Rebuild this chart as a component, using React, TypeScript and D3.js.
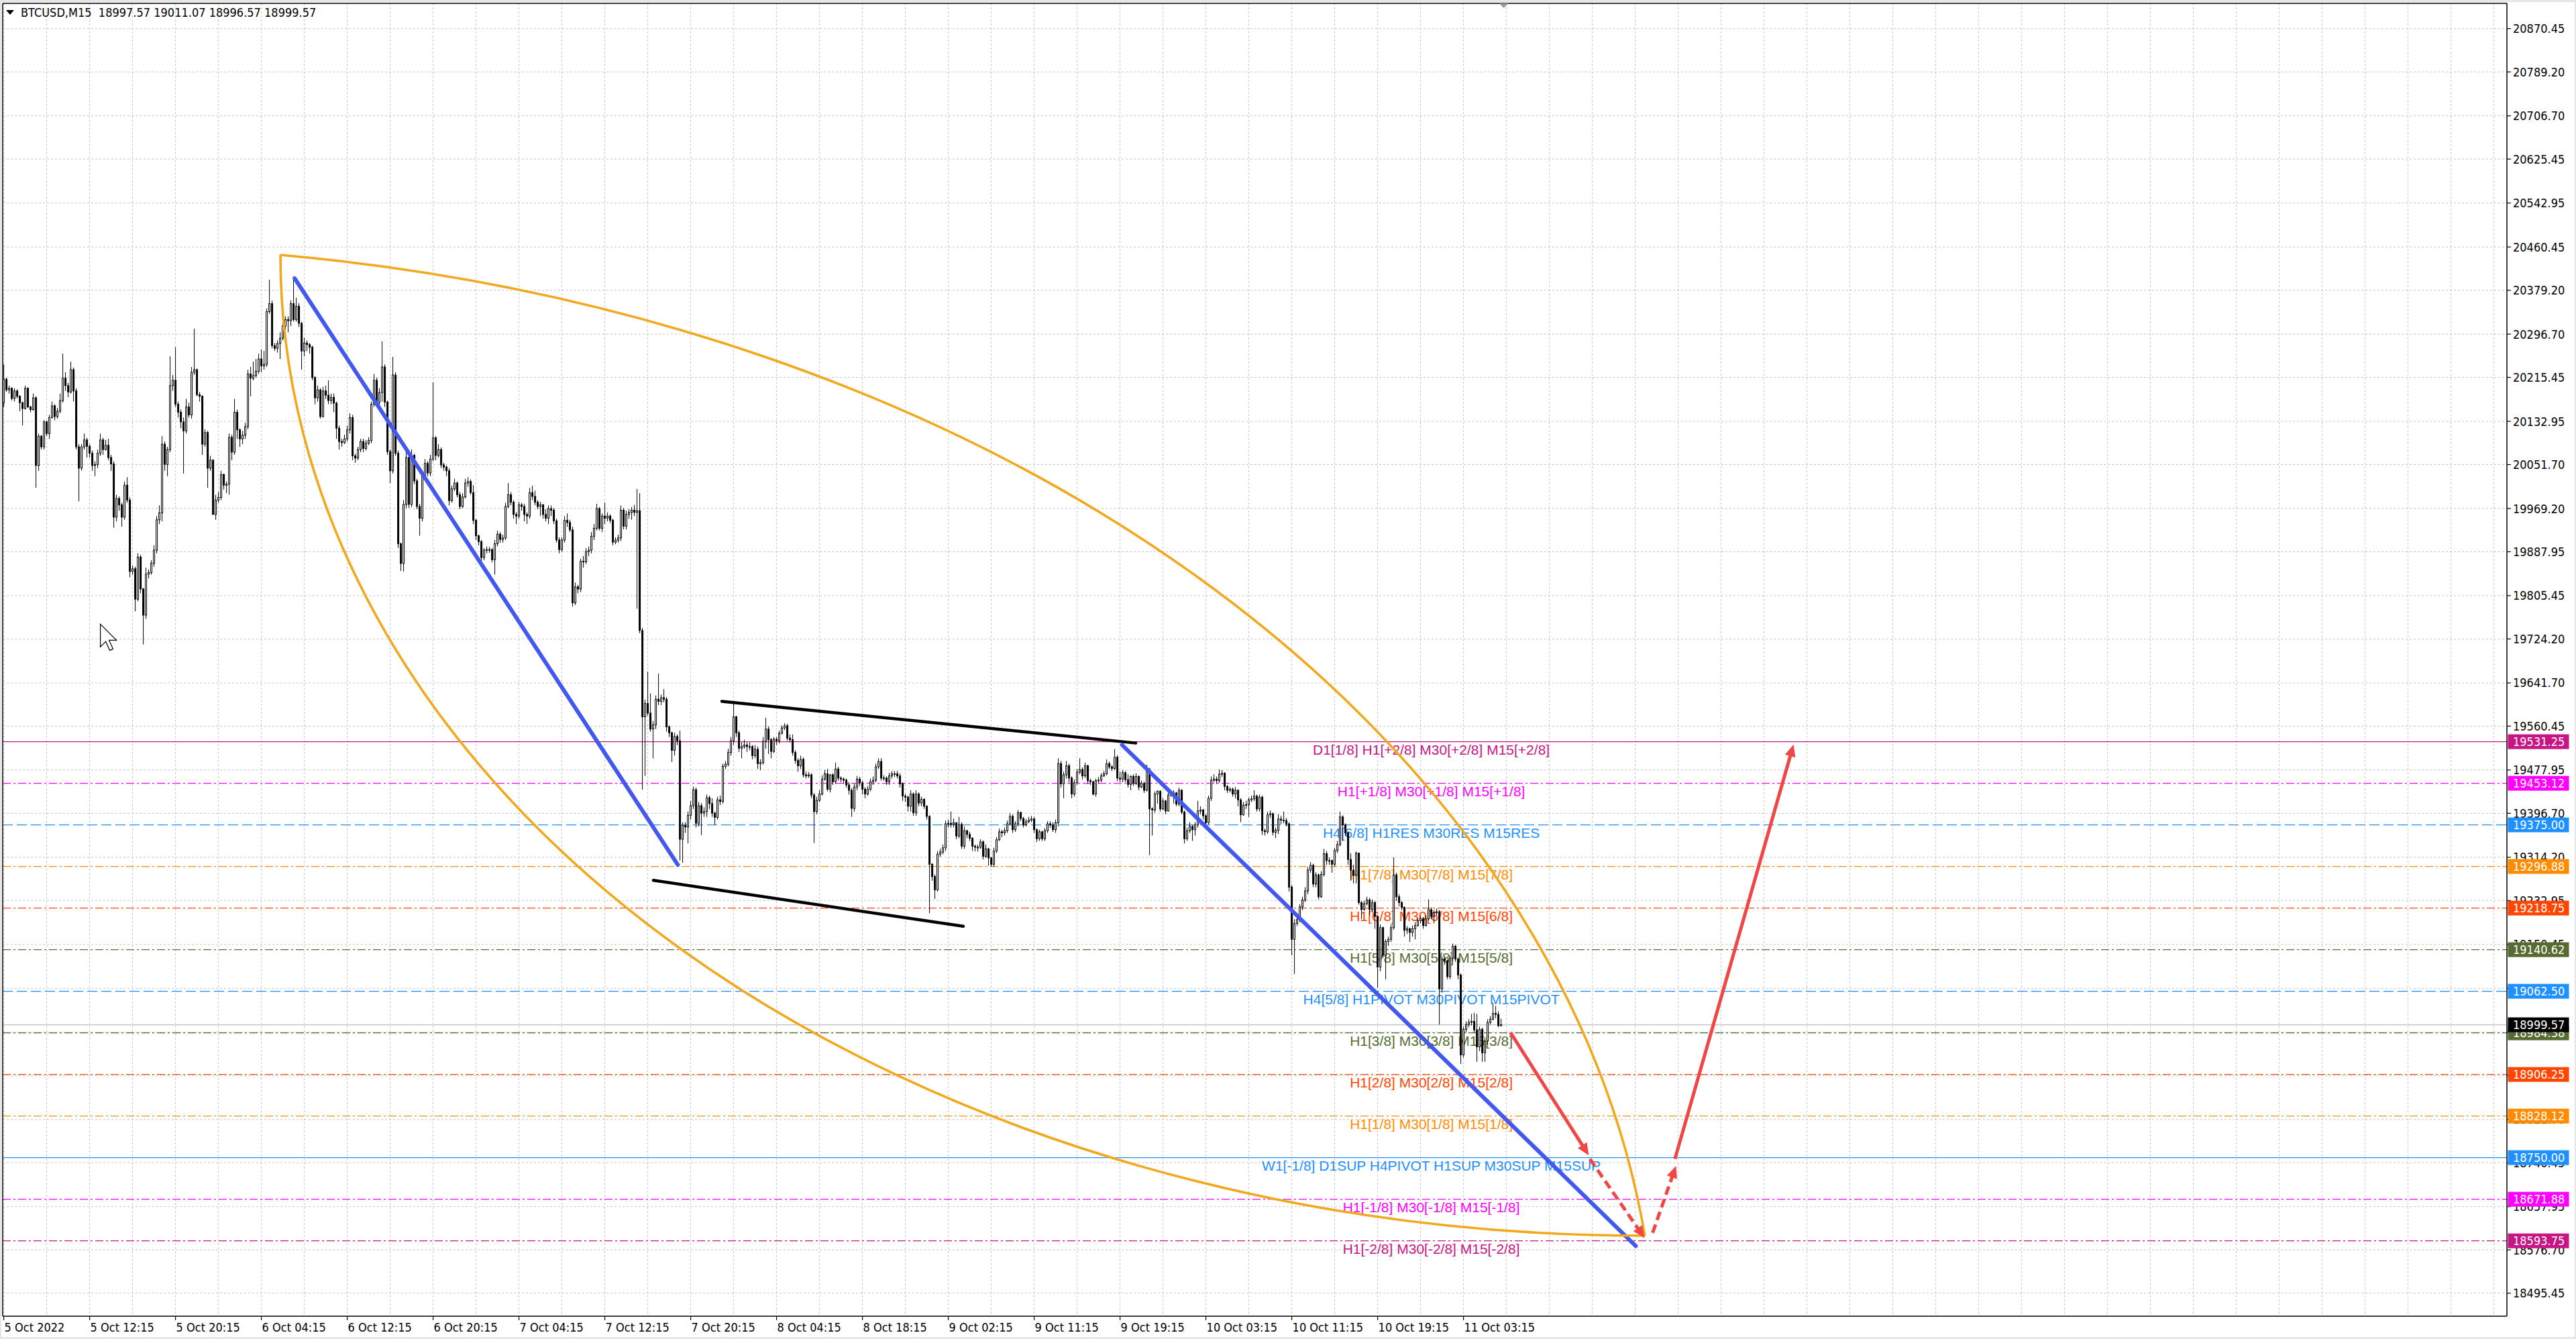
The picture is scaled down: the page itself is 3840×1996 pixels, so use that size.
import React, { useEffect } from "react";
import * as d3 from "d3";

const W = 3840;
const H = 1996;

// ---------- data ----------
const symbolHeader = "BTCUSD,M15  18997.57 19011.07 18996.57 18999.57";
const firstOpen = 20168;
const lastOpen = 18997.57;

const closes = [
  20212,20192,20195,20176,20190,20180,20168,20157,20195,20160,
  20155,20177,20050,20105,20085,20132,20110,20140,20162,20142,
  20152,20172,20214,20200,20188,20230,20190,20085,20045,20085,
  20098,20086,20073,20050,20052,20073,20098,20080,20088,20065,
  20053,19953,19988,19976,19953,20013,19985,19851,19856,19799,
  19878,19818,19769,19846,19849,19866,19891,19948,19961,20090,
  20052,20080,20200,20210,20165,20150,20132,20115,20160,20145,
  20225,20230,20183,20180,20090,20112,20045,20060,19958,19985,
  19990,20033,20013,20015,20103,20075,20150,20117,20100,20107,
  20123,20222,20214,20219,20227,20250,20237,20240,20339,20354,
  20275,20270,20279,20289,20312,20324,20322,20354,20324,20349,
  20317,20265,20280,20277,20272,20215,20177,20192,20142,20190,
  20182,20172,20178,20167,20120,20095,20093,20100,20117,20140,
  20068,20064,20080,20095,20082,20092,20097,20165,20210,20169,
  20187,20235,20169,20076,20040,20220,20073,19903,19866,19977,
  20065,19977,20069,20021,19973,19951,20032,20054,20036,20062,
  20102,20069,20080,20051,20047,20040,19984,20006,20017,19995,
  19973,19991,20017,20020,19999,19947,19918,19907,19877,19891,
  19892,19892,19873,19903,19921,19911,19914,19973,19995,19981,
  19958,19955,19976,19973,19958,19955,19999,19992,19981,19973,
  19976,19958,19951,19969,19966,19946,19910,19892,19910,19947,
  19943,19929,19792,19822,19818,19870,19869,19888,19891,19917,
  19932,19969,19932,19955,19951,19955,19947,19906,19910,19914,
  19966,19936,19958,19962,19966,19962,19965,19740,19578,19603,
  19585,19555,19563,19611,19607,19614,19611,19559,19548,19515,
  19541,19533,19348,19374,19371,19393,19411,19441,19378,19411,
  19397,19400,19426,19415,19397,19389,19422,19419,19485,19489,
  19511,19533,19578,19548,19519,19522,19525,19522,19522,19505,
  19517,19490,19492,19532,19555,19535,19513,19536,19533,19547,
  19557,19561,19538,19535,19511,19496,19486,19498,19469,19467,
  19469,19431,19400,19421,19433,19461,19471,19442,19469,19456,
  19480,19463,19461,19459,19450,19440,19406,19446,19461,19454,
  19442,19433,19442,19456,19459,19484,19494,19463,19463,19456,
  19467,19471,19471,19467,19452,19429,19427,19410,19433,19398,
  19433,19416,19423,19410,19391,19301,19278,19253,19320,19324,
  19332,19377,19378,19376,19379,19354,19376,19335,19364,19357,
  19350,19335,19333,19333,19343,19316,19330,19313,19301,19326,
  19347,19362,19360,19364,19377,19391,19366,19377,19398,19387,
  19375,19381,19384,19386,19366,19349,19362,19349,19364,19377,
  19375,19366,19379,19490,19452,19469,19486,19463,19433,19454,
  19474,19479,19467,19486,19458,19456,19433,19458,19459,19467,
  19471,19490,19484,19481,19502,19463,19461,19473,19460,19451,
  19466,19453,19466,19446,19453,19440,19479,19405,19403,19433,
  19438,19405,19420,19401,19431,19433,19435,19414,19440,19399,
  19349,19364,19372,19366,19375,19401,19403,19392,19379,19425,
  19459,19461,19458,19470,19472,19447,19440,19442,19433,19440,
  19422,19394,19412,19413,19422,19424,19429,19405,19427,19364,
  19362,19394,19396,19361,19365,19386,19384,19383,19377,19258,
  19160,19190,19197,19221,19234,19251,19290,19299,19264,19281,
  19240,19282,19321,19308,19308,19301,19327,19338,19390,19375,
  19360,19310,19290,19280,19322,19229,19216,19227,19234,19216,
  19229,19203,19108,19182,19130,19156,19160,19182,19281,19240,
  19229,19220,19177,19180,19173,19180,19186,19195,19199,19186,
  19199,19216,19203,19210,19212,19067,19123,19120,19090,19125,
  19147,19123,19093,18943,18991,19000,19004,19006,18990,18958,
  18991,18947,18969,19004,19010,19021,19019,18998,18999.57,
];

const highs = [
  20240,20215,20200,20197,20195,20193,20182,20170,20200,20197,
  20162,20185,20180,20110,20107,20135,20134,20145,20170,20165,
  20158,20185,20260,20225,20205,20245,20234,20195,20090,20090,
  20110,20102,20090,20078,20058,20080,20110,20102,20098,20100,
  20070,20058,19995,19992,19980,20020,20028,19990,19862,19860,
  19885,19882,19820,19858,19855,19872,19900,19955,19975,20105,
  20095,20085,20255,20220,20272,20170,20155,20140,20175,20168,
  20235,20307,20232,20188,20182,20118,20115,20068,20062,19995,
  20000,20040,20035,20020,20110,20108,20175,20155,20120,20115,
  20130,20230,20235,20245,20250,20260,20268,20265,20345,20399,
  20360,20280,20285,20300,20320,20330,20330,20360,20404,20365,
  20355,20320,20290,20285,20280,20275,20218,20200,20195,20198,
  20200,20210,20185,20185,20170,20125,20100,20108,20125,20148,
  20145,20072,20085,20100,20100,20098,20103,20170,20222,20215,
  20195,20283,20240,20172,20080,20254,20225,20078,19905,19985,
  20075,20070,20080,20072,20025,19978,20040,20062,20058,20070,
  20206,20105,20090,20084,20055,20050,20045,20012,20025,20020,
  20000,19998,20025,20028,20024,20013,19950,19920,19910,19895,
  19898,19897,19895,19910,19928,19925,19920,19980,20017,20000,
  19985,19962,19982,19980,19978,19962,20008,20012,20003,19985,
  19982,19978,19968,19975,19975,19970,19950,19915,19915,19955,
  19960,19948,19935,19830,19826,19875,19880,19895,19898,19925,
  19940,19978,19972,19960,19980,19962,19958,19950,19915,19920,
  19975,19970,19965,19968,19972,19976,20006,19998,19745,19610,
  19663,19622,19570,19618,19659,19620,19630,19615,19562,19550,
  19548,19545,19552,19380,19380,19400,19420,19447,19445,19418,
  19416,19408,19432,19430,19425,19400,19428,19430,19490,19495,
  19518,19540,19606,19580,19552,19530,19535,19530,19530,19525,
  19525,19522,19498,19540,19576,19560,19538,19540,19540,19552,
  19562,19566,19565,19545,19545,19515,19500,19505,19502,19475,
  19474,19472,19435,19428,19440,19468,19478,19480,19470,19472,
  19492,19484,19466,19464,19462,19455,19444,19452,19467,19465,
  19458,19446,19448,19462,19466,19490,19500,19500,19468,19466,
  19473,19476,19476,19476,19472,19455,19433,19430,19440,19436,
  19440,19436,19428,19425,19412,19393,19303,19282,19326,19330,
  19338,19383,19385,19400,19387,19380,19390,19380,19372,19366,
  19362,19352,19338,19338,19348,19346,19338,19332,19315,19332,
  19352,19368,19366,19370,19383,19397,19395,19382,19403,19400,
  19390,19386,19390,19392,19390,19368,19366,19364,19369,19382,
  19382,19380,19385,19500,19495,19475,19495,19490,19466,19460,
  19480,19500,19483,19492,19488,19462,19458,19462,19465,19472,
  19476,19498,19494,19487,19517,19506,19475,19478,19476,19470,
  19468,19470,19472,19468,19458,19456,19488,19482,19408,19438,
  19440,19440,19425,19422,19436,19438,19440,19437,19445,19442,
  19402,19370,19380,19375,19380,19420,19410,19405,19395,19430,
  19466,19470,19466,19479,19478,19474,19450,19446,19445,19446,
  19442,19425,19418,19420,19426,19430,19440,19432,19432,19430,
  19368,19400,19402,19398,19370,19395,19392,19400,19388,19380,
  19262,19198,19202,19226,19240,19258,19296,19305,19302,19286,
  19284,19288,19330,19326,19314,19310,19332,19345,19400,19393,
  19378,19363,19322,19300,19325,19318,19232,19232,19240,19238,
  19235,19232,19205,19188,19184,19160,19165,19188,19314,19285,
  19245,19232,19222,19185,19182,19186,19192,19200,19204,19202,
  19205,19235,19220,19215,19218,19215,19128,19126,19122,19130,
  19152,19150,19126,19096,18996,19006,19010,19020,19022,19020,
  18996,18994,18975,19010,19016,19041,19035,19025,19011.07,
];

const lows = [
  20160,20188,20185,20172,20170,20176,20152,20125,20155,20158,
  20150,20153,20008,20040,20080,20080,20105,20100,20138,20135,
  20138,20148,20168,20190,20178,20185,20170,20080,19983,20040,
  20080,20065,20065,20040,20030,20045,20068,20070,20078,20060,
  20040,19933,19945,19965,19935,19948,19980,19840,19845,19776,
  19795,19810,19714,19762,19838,19845,19860,19885,19940,19945,
  20040,20030,20075,20190,20160,20140,20120,20035,20110,20140,
  20138,20220,20180,20170,20070,20085,20008,20040,19958,19948,
  19980,19985,20005,19998,19995,20060,20070,20100,20085,20090,
  20100,20118,20180,20210,20215,20222,20225,20230,20235,20335,
  20270,20265,20262,20250,20285,20305,20300,20312,20320,20320,
  20310,20230,20255,20265,20260,20210,20165,20170,20138,20140,
  20175,20165,20165,20150,20100,20080,20085,20090,20095,20110,
  20060,20055,20060,20075,20075,20078,20088,20092,20160,20165,
  20154,20170,20160,20070,20017,20035,20068,19895,19852,19851,
  19970,19970,19972,20015,19968,19918,19945,20028,20030,20030,
  20058,20060,20065,20045,20040,20030,19975,19980,20002,19990,
  19968,19970,19988,20010,19995,19940,19910,19900,19870,19872,
  19885,19886,19868,19845,19898,19905,19905,19910,19970,19975,
  19950,19940,19950,19965,19945,19940,19950,19985,19975,19968,
  19955,19950,19945,19940,19955,19940,19905,19885,19888,19905,
  19935,19925,19785,19788,19810,19812,19858,19865,19880,19885,
  19910,19928,19928,19925,19940,19945,19942,19900,19902,19905,
  19908,19930,19930,19950,19948,19955,19781,19735,19441,19467,
  19580,19550,19500,19555,19600,19600,19605,19550,19540,19493,
  19505,19525,19308,19304,19360,19340,19385,19405,19370,19372,
  19356,19390,19390,19405,19390,19375,19385,19412,19415,19480,
  19485,19505,19525,19540,19512,19500,19518,19512,19515,19498,
  19500,19480,19478,19488,19518,19508,19500,19510,19525,19528,
  19545,19553,19533,19530,19505,19490,19475,19480,19464,19462,
  19463,19425,19341,19395,19418,19430,19458,19438,19436,19450,
  19452,19458,19455,19452,19445,19432,19390,19400,19440,19448,
  19432,19425,19430,19438,19450,19455,19480,19458,19458,19450,
  19450,19462,19465,19462,19445,19420,19418,19400,19400,19392,
  19392,19410,19410,19405,19385,19209,19270,19236,19250,19315,
  19320,19326,19370,19370,19370,19348,19350,19330,19330,19350,
  19345,19326,19325,19325,19330,19310,19313,19298,19296,19296,
  19322,19345,19352,19355,19360,19374,19360,19362,19372,19382,
  19370,19372,19378,19380,19360,19343,19345,19345,19345,19360,
  19370,19362,19360,19372,19445,19425,19462,19455,19425,19428,
  19450,19470,19460,19463,19452,19450,19430,19428,19452,19455,
  19465,19468,19480,19476,19478,19457,19455,19455,19455,19445,
  19440,19448,19450,19440,19444,19435,19438,19318,19355,19398,
  19415,19400,19403,19395,19400,19428,19415,19410,19410,19395,
  19340,19345,19360,19345,19355,19370,19395,19385,19372,19376,
  19420,19455,19452,19454,19465,19440,19435,19436,19428,19425,
  19410,19380,19392,19405,19390,19418,19420,19400,19400,19356,
  19355,19358,19388,19355,19350,19358,19376,19378,19372,19250,
  19130,19095,19185,19192,19215,19230,19245,19285,19258,19258,
  19235,19238,19278,19300,19300,19285,19296,19322,19335,19345,
  19354,19300,19270,19265,19265,19225,19198,19214,19224,19205,
  19210,19180,19069,19100,19125,19085,19148,19155,19178,19232,
  19222,19215,19165,19170,19155,19165,19160,19184,19190,19180,
  19184,19196,19198,19190,19205,19000,19060,19112,19085,19085,
  19120,19118,19085,18926,18938,18985,18995,18998,18985,18930,
  18950,18930,18930,18962,19000,19008,19012,18995,18996.57,
];

const timeLabels = [
  "5 Oct 2022", "5 Oct 12:15", "5 Oct 20:15", "6 Oct 04:15", "6 Oct 12:15",
  "6 Oct 20:15", "7 Oct 04:15", "7 Oct 12:15", "7 Oct 20:15", "8 Oct 04:15",
  "8 Oct 18:15", "9 Oct 02:15", "9 Oct 11:15", "9 Oct 19:15", "10 Oct 03:15",
  "10 Oct 11:15", "10 Oct 19:15", "11 Oct 03:15",
];
const barsPerTimeLabel = 32;
const barsPerGrid = 16;

const priceTicks = [
  20870.45, 20789.2, 20706.7, 20625.45, 20542.95, 20460.45, 20379.2, 20296.7,
  20215.45, 20132.95, 20051.7, 19969.2, 19887.95, 19805.45, 19724.2, 19641.7,
  19560.45, 19477.95, 19396.7, 19314.2, 19232.95, 19150.45, 19067.95, 18985.45,
  18904.2, 18821.7, 18740.45, 18657.95, 18576.7, 18495.45,
];

const levelPrices = [
  19531.25, 19453.12, 19375.0, 19296.88, 19218.75, 19140.62, 19062.5,
  18984.38, 18906.25, 18828.12, 18750.0, 18671.88, 18593.75,
];
const levelColors = [
  "#C71585", "#FF00FF", "#1E90FF", "#FF8C00", "#FF4500", "#556B2F", "#1E90FF",
  "#556B2F", "#FF4500", "#FF8C00", "#1E90FF", "#FF00FF", "#C71585",
];
const levelKinds = [
  "solid", "dashdot", "dash", "dashdot", "dashdot", "dashdot", "dash",
  "dashdot", "dashdot", "dashdot", "solid", "dashdot", "dashdot",
];
const levelLabels = [
  "D1[1/8] H1[+2/8] M30[+2/8] M15[+2/8]",
  "H1[+1/8] M30[+1/8] M15[+1/8]",
  "H4[6/8] H1RES M30RES M15RES",
  "H1[7/8] M30[7/8] M15[7/8]",
  "H1[6/8] M30[6/8] M15[6/8]",
  "H1[5/8] M30[5/8] M15[5/8]",
  "H4[5/8] H1PIVOT M30PIVOT M15PIVOT",
  "H1[3/8] M30[3/8] M15[3/8]",
  "H1[2/8] M30[2/8] M15[2/8]",
  "H1[1/8] M30[1/8] M15[1/8]",
  "W1[-1/8] D1SUP H4PIVOT H1SUP M30SUP M15SUP",
  "H1[-1/8] M30[-1/8] M15[-1/8]",
  "H1[-2/8] M30[-2/8] M15[-2/8]",
];
const levelLabelBar = 532;
const currentPrice = 18999.57;

// drawn objects, as [bar, price] anchors
const blueTrendLines = [
  [[108.4, 20401.6], [251.2, 19300.0]],
  [[416.8, 19525.0], [608.2, 18584.0]],
];
const blackChannel = [
  [[267.6, 19607.1], [421.85, 19528.7]],
  [[242.1, 19270.8], [357.6, 19184.6]],
];
const lensTip = [103.1, 20445.5];
const lensEnd = [611.6, 18603.4];
const redArrowsSolid = [
  [[561.5, 18985.0], [590.7, 18754.2]],
  [[622.8, 18747.6], [667.0, 19526.0]],
];
const redArrowsDashed = [
  [[591.1, 18747.6], [611.5, 18599.0]],
  [[614.5, 18609.0], [623.2, 18734.5]],
];
const cursorAt = [36, 19752];

// ---------- component ----------
const AXIS_FONT = "'DejaVu Sans Condensed', 'DejaVu Sans', sans-serif";
const LABEL_FONT = "'Liberation Sans', Arial, sans-serif";

function arrowHead(x1: number, y1: number, x2: number, y2: number, len = 18, half = 8) {
  const dx = x2 - x1, dy = y2 - y1;
  const L = Math.hypot(dx, dy);
  const ux = dx / L, uy = dy / L;
  const bx = x2 - ux * len, by = y2 - uy * len;
  return {
    pts: `${x2},${y2} ${bx - uy * half},${by + ux * half} ${bx + uy * half},${by - ux * half}`,
    bx: x2 - ux * (len - 3),
    by: y2 - uy * (len - 3),
  };
}

export default function App() {
  useEffect(() => {
    document.body.style.margin = "0";
    document.body.style.overflow = "hidden";
  }, []);

  const x = d3.scaleLinear().domain([0, 1]).range([5.6, 9.6]);
  const y = d3.scaleLinear().domain([18495.45, 20870.45]).range([1927.7, 42.7]);

  const plotL = 4, plotT = 5, plotR = 3737, plotB = 1962;
  const gridColor = "#C4C4C4";

  const n = closes.length;
  const candles = closes.map((c, i) => {
    const o = i === 0 ? firstOpen : i === n - 1 ? lastOpen : closes[i - 1];
    const h = Math.max(highs[i] ?? c, o, c);
    const l = Math.min(lows[i] ?? c, o, c);
    return { i, o, h, l, c };
  });

  const vGrid = d3.range(0, 59).map((k) => x(k * barsPerGrid));

  const tip = [x(lensTip[0]), y(lensTip[1])];
  const end = [x(lensEnd[0]), y(lensEnd[1])];
  const lw = end[0] - tip[0], lh = end[1] - tip[1];
  const lowerArc = `M${tip[0]},${tip[1]} A${lw},${lh} 0 0 0 ${end[0]},${end[1]}`;
  const upperArc = `M${tip[0]},${tip[1]} A${lw * 1.15},${lh * 1.15} 0 0 1 ${end[0]},${end[1]}`;

  const dashFor = (k: string) => (k === "dash" ? "15,6" : k === "dashdot" ? "12,4,3,4" : undefined);

  const cx0 = x(cursorAt[0]), cy0 = y(cursorAt[1]);
  const cursorPts = [[0, 0], [0, 34], [8, 26], [14, 39], [19, 37], [13, 24], [24, 24]]
    .map(([a, b]) => `${cx0 + a},${cy0 + b}`).join(" ");

  const renderArrow = (seg: number[][], dashed: boolean, key: string) => {
    const x1 = x(seg[0][0]), y1 = y(seg[0][1]), x2 = x(seg[1][0]), y2 = y(seg[1][1]);
    const ah = arrowHead(x1, y1, x2, y2);
    return (
      <g key={key}>
        <line x1={x1} y1={y1} x2={ah.bx} y2={ah.by} stroke="#F04646" strokeWidth={5}
          strokeDasharray={dashed ? "13,7" : undefined} strokeLinecap="butt" />
        <polygon points={ah.pts} fill="#F04646" />
      </g>
    );
  };

  return (
    <svg width={W} height={H} viewBox={`0 0 ${W} ${H}`}
      style={{ position: "absolute", left: 0, top: 0, display: "block" }}>
      <rect x={0} y={0} width={W} height={H} fill="#E6E6E6" />
      <rect x={2} y={3} width={W - 4} height={H - 6} fill="#FFFFFF" />

      {/* grid */}
      <g stroke={gridColor} strokeWidth={1} strokeDasharray="3,3">
        {priceTicks.map((p) => (
          <line key={"h" + p} x1={plotL} x2={plotR} y1={y(p)} y2={y(p)} />
        ))}
        {vGrid.map((gx, k) => (
          <line key={"v" + k} x1={gx} x2={gx} y1={plotT} y2={plotB} />
        ))}
      </g>

      {/* level lines */}
      {levelPrices.map((p, k) => (
        <line key={"lv" + k} x1={plotL} x2={plotR} y1={y(p)} y2={y(p)}
          stroke={levelColors[k]} strokeWidth={1.2} strokeDasharray={dashFor(levelKinds[k])} />
      ))}
      <line x1={plotL} x2={plotR} y1={y(currentPrice)} y2={y(currentPrice)} stroke="#BDBDBD" strokeWidth={1.2} />

      {/* level labels */}
      {levelPrices.map((p, k) => (
        <text key={"lt" + k} x={x(levelLabelBar)} y={y(p) + 19} textAnchor="middle"
          fontFamily={LABEL_FONT} fontSize={21} fill={levelColors[k]}>
          {levelLabels[k]}
        </text>
      ))}

      {/* candles */}
      <g>
        {candles.map((d) => {
          const cx = x(d.i);
          const top = y(Math.max(d.o, d.c));
          const bot = y(Math.min(d.o, d.c));
          const bull = d.c >= d.o;
          const hgt = Math.max(1, bot - top);
          return (
            <g key={"c" + d.i}>
              <line x1={cx} x2={cx} y1={y(d.h)} y2={y(d.l)} stroke="#000" strokeWidth={1} />
              {bull ? (
                <rect x={cx - 1} y={top} width={2} height={hgt} fill="#FFF" stroke="#000" strokeWidth={1} />
              ) : (
                <rect x={cx - 1.5} y={top - 0.5} width={3} height={hgt + 1} fill="#000" />
              )}
            </g>
          );
        })}
      </g>

      {/* black channel */}
      {blackChannel.map((s, k) => (
        <line key={"bc" + k} x1={x(s[0][0])} y1={y(s[0][1])} x2={x(s[1][0])} y2={y(s[1][1])}
          stroke="#000" strokeWidth={4.5} strokeLinecap="round" />
      ))}

      {/* blue trend lines */}
      {blueTrendLines.map((s, k) => (
        <line key={"bt" + k} x1={x(s[0][0])} y1={y(s[0][1])} x2={x(s[1][0])} y2={y(s[1][1])}
          stroke="#4258EE" strokeWidth={6} strokeLinecap="round" />
      ))}

      {/* orange lens */}
      <path d={lowerArc} fill="none" stroke="#F2A81D" strokeWidth={3.6} />
      <path d={upperArc} fill="none" stroke="#F2A81D" strokeWidth={3.6} />

      {/* red arrows */}
      {redArrowsSolid.map((s, k) => renderArrow(s, false, "ra" + k))}
      {redArrowsDashed.map((s, k) => renderArrow(s, true, "rd" + k))}

      {/* frame */}
      <g stroke="#000" strokeWidth={1.5}>
        <line x1={plotL} x2={plotL} y1={plotT} y2={plotB} />
        <line x1={plotL} x2={plotR} y1={plotT} y2={plotT} />
        <line x1={plotR} x2={plotR} y1={plotT} y2={plotB} />
        <line x1={plotL} x2={plotR} y1={plotB} y2={plotB} />
      </g>

      {/* shift marker */}
      <polygon points={`${x(n) - 7},${plotT} ${x(n) + 7},${plotT} ${x(n)},${plotT + 7}`} fill="#9A9A9A" />

      {/* price axis */}
      {priceTicks.map((p) => (
        <g key={"pt" + p}>
          <line x1={plotR} x2={plotR + 6} y1={y(p)} y2={y(p)} stroke="#000" strokeWidth={1.2} />
          <text x={3746} y={y(p)} dominantBaseline="central" fontFamily={AXIS_FONT}
            fontStretch="condensed" fontSize={18} fill="#000">
            {p.toFixed(2)}
          </text>
        </g>
      ))}
      {levelPrices.map((p, k) => (
        <g key={"pb" + k}>
          <rect x={3738.5} y={y(p) - 11} width={91} height={22} fill={levelColors[k]} />
          <text x={3746} y={y(p)} dominantBaseline="central" fontFamily={AXIS_FONT}
            fontStretch="condensed" fontSize={18} fill="#FFF">
            {p.toFixed(2)}
          </text>
        </g>
      ))}
      <g>
        <rect x={3738.5} y={y(currentPrice) - 11} width={91} height={22} fill="#000" />
        <text x={3746} y={y(currentPrice)} dominantBaseline="central" fontFamily={AXIS_FONT}
          fontStretch="condensed" fontSize={18} fill="#FFF">
          {currentPrice.toFixed(2)}
        </text>
      </g>

      {/* time axis */}
      {timeLabels.map((t, k) => {
        const tx = x(k * barsPerTimeLabel);
        return (
          <g key={"tl" + k}>
            <line x1={tx} x2={tx} y1={plotB} y2={plotB + 6} stroke="#000" strokeWidth={1.2} />
            <text x={tx + 1} y={1985} fontFamily={AXIS_FONT} fontStretch="condensed" fontSize={18} fill="#000">
              {t}
            </text>
          </g>
        );
      })}

      {/* header */}
      <polygon points="9,15 21,15 15,22" fill="#000" />
      <text x={31} y={25} fontFamily={AXIS_FONT} fontStretch="condensed" fontSize={18} fill="#000"
        style={{ whiteSpace: "pre" }}>
        {symbolHeader}
      </text>

      {/* mouse cursor */}
      <polygon points={cursorPts} fill="#FFF" stroke="#000" strokeWidth={1.2} />
    </svg>
  );
}
